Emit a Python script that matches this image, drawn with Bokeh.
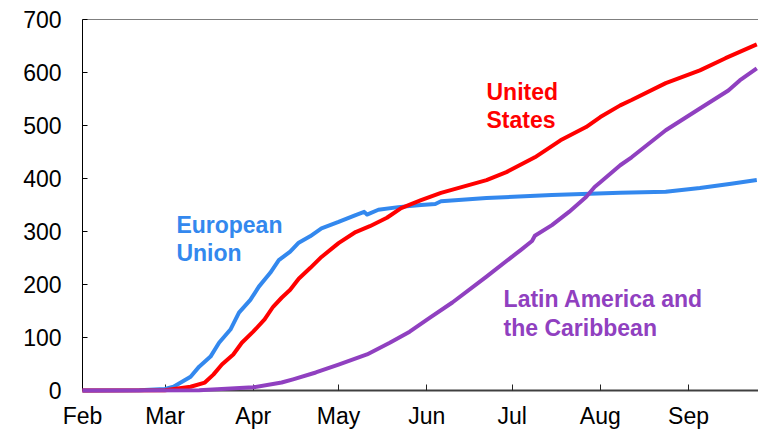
import pandas as pd
from bokeh.plotting import figure
from bokeh.models import Range1d, FixedTicker, Label, Span, DatetimeTickFormatter
from bokeh.embed import file_html
from bokeh.resources import INLINE

# ---- data ----
eu_dates = ["2020-02-01", "2020-02-21", "2020-03-01", "2020-03-04", "2020-03-10", "2020-03-13",
            "2020-03-17", "2020-03-20", "2020-03-24", "2020-03-27", "2020-03-31", "2020-04-03",
            "2020-04-07", "2020-04-10", "2020-04-14", "2020-04-17", "2020-04-21", "2020-04-25",
            "2020-05-01", "2020-05-07", "2020-05-10", "2020-05-11", "2020-05-15", "2020-05-22",
            "2020-05-30", "2020-06-04", "2020-06-06", "2020-06-22", "2020-07-15", "2020-08-08",
            "2020-08-24", "2020-09-05", "2020-09-16", "2020-09-25"]
eu_values = [0, 0.5, 3, 7, 26, 45,
             64, 90, 115, 147, 171, 196,
             222, 246, 262, 279, 291, 306,
             318, 331, 337, 332, 341, 346,
             350, 352, 357, 363, 369, 373,
             375, 382, 390, 397]

us_dates = ["2020-02-01", "2020-03-01", "2020-03-10", "2020-03-15", "2020-03-18", "2020-03-21",
            "2020-03-25", "2020-03-28", "2020-04-01", "2020-04-05", "2020-04-08", "2020-04-11",
            "2020-04-14", "2020-04-17", "2020-04-21", "2020-04-25", "2020-05-01", "2020-05-07",
            "2020-05-12", "2020-05-18", "2020-05-23", "2020-05-30", "2020-06-06", "2020-06-22",
            "2020-06-29", "2020-07-09", "2020-07-18", "2020-07-27", "2020-08-01", "2020-08-08",
            "2020-08-12", "2020-08-24", "2020-09-05", "2020-09-14", "2020-09-25"]
us_values = [0, 0.5, 7, 15, 30, 49,
             68, 90, 111, 134, 158, 175,
             190, 211, 231, 252, 278, 299,
             310, 326, 344, 359, 373, 397,
             412, 440, 472, 497, 516, 538,
             548, 580, 604, 627, 653]

la_dates = ["2020-02-01", "2020-03-13", "2020-04-01", "2020-04-11", "2020-04-15", "2020-04-23",
            "2020-05-01", "2020-05-11", "2020-05-19", "2020-05-26", "2020-06-02", "2020-06-10",
            "2020-06-22", "2020-07-04", "2020-07-08", "2020-07-09", "2020-07-15", "2020-07-21",
            "2020-07-27", "2020-07-30", "2020-08-01", "2020-08-08", "2020-08-12", "2020-08-24",
            "2020-09-05", "2020-09-15", "2020-09-19", "2020-09-25"]
la_values = [0, 0.5, 6, 15, 21, 34,
             49, 68, 90, 111, 137, 166,
             215, 265, 282, 292, 312, 337,
             365, 384, 393, 425, 440, 491,
             532, 566, 585, 608]

month_ticks = ["2020-02-01", "2020-03-01", "2020-04-01", "2020-05-01",
               "2020-06-01", "2020-07-01", "2020-08-01", "2020-09-01"]
y_ticks = [0, 100, 200, 300, 400, 500, 600, 700]

EU_C = "#3388ee"
US_C = "#ff0000"
LA_C = "#9040c0"
FONT = "Liberation Sans"


def ms(s):
    return pd.Timestamp(s).value / 1e6


x_start = ms("2020-02-01")
x_end = ms("2020-02-01") + 237.6 * 86400000

p = figure(width=758, height=431, x_axis_type="datetime",
           output_backend="svg", toolbar_location=None,
           x_range=Range1d(x_start, x_end), y_range=Range1d(0, 700),
           min_border_left=82, min_border_right=0, min_border_top=19, min_border_bottom=40)

p.outline_line_color = None
p.grid.grid_line_color = None
p.background_fill_color = "white"
p.border_fill_color = "white"

p.add_layout(Span(location=700, dimension="width", line_color="black", line_width=1))

for dates, vals, col in [(eu_dates, eu_values, EU_C), (us_dates, us_values, US_C),
                         (la_dates, la_values, LA_C)]:
    r = p.line(pd.to_datetime(dates), vals, line_color=col, line_width=4, line_join="round")
    r.level = "overlay"

# axes
xa = p.xaxis[0]
xa.ticker = FixedTicker(ticks=[ms(d) for d in month_ticks])
xa.formatter = DatetimeTickFormatter(months="%b", days="%b", years="%b", hours="%b")
xa.axis_line_color = "#404040"
xa.axis_line_width = 2
xa.major_tick_in = 6
xa.major_tick_out = 0
xa.major_tick_line_color = "#222222"
xa.minor_tick_line_color = None
xa.major_label_standoff = 12
xa.major_label_text_font = FONT
xa.major_label_text_font_size = "23px"
xa.major_label_text_color = "black"

ya = p.yaxis[0]
ya.ticker = FixedTicker(ticks=y_ticks)
ya.axis_line_color = "black"
ya.axis_line_width = 1
ya.major_tick_in = 5
ya.major_tick_out = 0
ya.major_tick_line_color = "black"
ya.minor_tick_line_color = None
ya.major_label_standoff = 21
ya.major_label_text_font = FONT
ya.major_label_text_font_size = "23px"
ya.major_label_text_color = "black"

# annotations
labels = [("European", "2020-03-05", 313, EU_C), ("Union", "2020-03-05", 259, EU_C),
          ("United", "2020-06-22", 564, US_C), ("States", "2020-06-22", 511, US_C),
          ("Latin America and", "2020-06-28", 172, LA_C), ("the Caribbean", "2020-06-28", 118, LA_C)]
for txt, d, yv, col in labels:
    p.add_layout(Label(x=ms(d), y=yv, text=txt, text_color=col, text_font=FONT,
                       text_font_size="23px", text_font_style="bold",
                       text_baseline="alphabetic", text_align="left"))

open("out.html", "w").write(file_html(p, INLINE))
